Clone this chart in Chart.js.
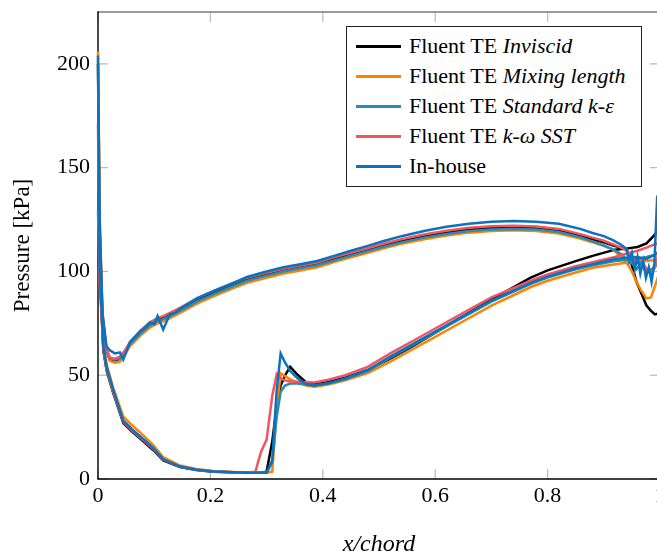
<!DOCTYPE html>
<html>
<head>
<meta charset="utf-8">
<script src="https://cdn.jsdelivr.net/npm/chart.js@4.4.0/dist/chart.umd.min.js"></script>
<style>
html, body { margin:0; padding:0; background:#fff; overflow:hidden; }
#wrap { position:relative; width:657px; height:555px; overflow:hidden; }
#c { position:absolute; left:0; top:0; }
#legend { position:absolute; left:346px; top:26px; width:296px; height:161px; box-sizing:border-box;
  border:1.3px solid #222; background:#fff; font-family:'Liberation Serif','DejaVu Serif',serif; font-size:22px; color:#000; }
.row { position:absolute; left:0; width:100%; height:30px; line-height:30px; white-space:nowrap; }
.swatch { position:absolute; left:9px; top:13.5px; width:45px; height:3px; }
.txt { position:absolute; left:62px; top:0; }
</style>
</head>
<body>
<div id="wrap">
  <canvas id="c" width="680" height="555"></canvas>
  <div id="legend"></div>
</div>
<script>
// ---------- tick labels ----------
const xTicks = [0, 0.2, 0.4, 0.6, 0.8, 1];
const yTicks = [0, 50, 100, 150, 200];

// ---------- series names ----------
const seriesNames  = ['Fluent TE Inviscid', 'Fluent TE Mixing length', 'Fluent TE Standard k-ε', 'Fluent TE k-ω SST', 'In-house'];
const legendPlain  = ['Fluent TE ', 'Fluent TE ', 'Fluent TE ', 'Fluent TE ', 'In-house'];
const legendItalic = ['Inviscid', 'Mixing length', 'Standard k-ε', 'k-ω SST', ''];

// ---------- x/chord positions ----------
const xLower = [0.003, 0.0095, 0.0155, 0.027, 0.045, 0.06, 0.075, 0.098, 0.116, 0.146,
  0.175, 0.205, 0.265, 0.28, 0.29, 0.30, 0.31, 0.318, 0.325, 0.333,
  0.342, 0.355, 0.371, 0.385, 0.41, 0.44, 0.48, 0.52, 0.56, 0.60,
  0.65, 0.70, 0.77, 0.80, 0.85, 0.88, 0.92, 0.94, 0.96, 0.976,
  0.99, 1.0];
const xUpper = [0, 0.003, 0.008, 0.015, 0.021, 0.03, 0.039, 0.048, 0.057, 0.075,
  0.0925, 0.106, 0.116, 0.128, 0.146, 0.176, 0.205, 0.241, 0.265, 0.30,
  0.33, 0.36, 0.39, 0.42, 0.45, 0.48, 0.51, 0.54, 0.58, 0.62,
  0.66, 0.70, 0.74, 0.78, 0.82, 0.858, 0.88, 0.90, 0.917, 0.93,
  0.941, 0.95, 0.958, 0.966, 0.976, 0.984, 0.991, 1.0];
const xUpperInHouse = [0, 0.003, 0.008, 0.015, 0.021, 0.03, 0.039, 0.045, 0.057, 0.066,
  0.075, 0.084, 0.0925, 0.1, 0.106, 0.116, 0.128, 0.137, 0.146, 0.176,
  0.205, 0.241, 0.265, 0.30, 0.33, 0.36, 0.39, 0.42, 0.45, 0.48,
  0.51, 0.54, 0.58, 0.62, 0.66, 0.70, 0.74, 0.78, 0.82, 0.858,
  0.88, 0.90, 0.917, 0.93, 0.94, 0.945, 0.95, 0.955, 0.96, 0.965,
  0.97, 0.975, 0.98, 0.985, 0.99, 0.995, 1.0];

// ---------- pressure [kPa] ----------
const inviscidLower = [100, 62, 52, 41.5, 27, 23, 19.5, 14, 9, 5.8,
  4.3, 3.5, 3, 3, 3, 3.5, 18, 35, 45, 50,
  54, 50.2, 46.4, 45.5, 46.8, 48.8, 52.5, 58, 64, 70.5,
  78.5, 86.5, 97, 100.5, 105, 107.5, 110.5, 111, 111.8, 113.5,
  117.5, 121];
const inviscidUpper = [200, 120, 78, 62, 57.5, 57, 58, 61, 65, 70.5,
  74.5, 76.5, 77.5, 79, 81.5, 86, 89.5, 93.5, 96, 98.5,
  100.5, 102, 103.5, 106, 108.3, 110.5, 112.8, 114.8, 117, 118.8,
  120.2, 121, 121.3, 121, 119.8, 117.2, 115.5, 114, 112.5, 111.5,
  110.5, 103, 95, 90, 83.5, 81, 79.3, 80];

const mixingLower = [105, 66, 55, 44, 30, 26, 22.5, 16.5, 10.5, 6.5,
  4.8, 3.8, 3, 3, 3, 3, 3.5, 33, 51, 49.5,
  48, 46.5, 45, 44.5, 45.5, 47.5, 51, 56.5, 62.5, 68.5,
  76, 83.5, 92.5, 95.5, 99.5, 101.8, 103.5, 104.2, 104.5, 105,
  105.5, 106];
const mixingUpper = [206, 125, 80, 62, 57, 56, 56.5, 60, 64, 69,
  73, 75, 76, 77.5, 80, 84.5, 88, 92, 94.5, 97,
  99, 100.5, 102, 104.5, 106.8, 109, 111.3, 113.3, 115.5, 117.3,
  118.7, 119.5, 119.8, 119.5, 118.3, 115.8, 114, 112.3, 110.5, 107,
  104, 100, 95, 91, 87, 87.5, 93, 100];

const kepsLower = [98, 63, 53, 42.5, 28, 24, 20.5, 15, 9.5, 6,
  4.5, 3.6, 3, 3, 3, 3, 8, 30, 42, 45,
  46, 46, 45.5, 45, 46, 48, 52, 58.5, 64.5, 70.5,
  78, 85.5, 94, 97, 101, 103, 105, 105.5, 106, 107,
  108, 109];
const kepsUpper = [129, 110, 76, 62, 58, 57.5, 58, 61, 65, 70,
  74, 76, 77, 78.5, 81, 85.5, 89, 93, 95.5, 98,
  100, 101.5, 103, 105.3, 107.6, 109.8, 112, 114, 116.3, 118,
  119.5, 120.2, 120.5, 120.2, 119, 116.5, 114.5, 112.5, 110.5, 108.5,
  106, 104, 101, 104, 99, 101, 102, 107];

const komegaLower = [95, 63, 53, 42, 27.5, 23.5, 20, 14.5, 9.3, 6,
  4.5, 3.6, 3, 3.5, 13, 19, 40, 50.5, 48.5, 47.5,
  47, 46.8, 46.6, 46.5, 47.8, 50, 54, 60.5, 66.5, 72.5,
  80, 87.5, 95.5, 98.5, 102.5, 104.5, 107, 108.5, 110, 111.5,
  113, 114];
const komegaUpper = [171, 115, 78, 63, 58.5, 58, 59, 62, 66, 71.5,
  75.5, 77.5, 78.5, 80, 82.5, 87, 90.5, 94.5, 97, 99.3,
  101.3, 102.8, 104.3, 106.8, 109, 111.2, 113.5, 115.5, 117.8, 119.6,
  121, 121.8, 122, 121.7, 120.5, 118, 116.3, 114.8, 113, 111.5,
  110, 107, 104, 106, 101, 99, 102, 112];

const inhouseLower = [102, 64, 54, 43, 28, 24, 20.5, 15, 9.5, 6,
  4.5, 3.6, 3, 3, 3, 3, 9, 43, 60.5, 56,
  52, 48.5, 45.5, 45, 46.2, 48.5, 52.5, 59, 65, 71,
  78.5, 86, 94.5, 97.5, 101.5, 103.5, 106, 106.5, 107, 106,
  108, 110];
const inhouseUpper = [204, 125, 80, 64, 62, 60.5, 61, 57.5, 66, 68.5,
  71, 73, 75.5, 74.5, 78.5, 72, 79.5, 80, 82, 87,
  90.5, 94.5, 97.3, 100, 102, 103.5, 105, 107.5, 110, 112.3,
  114.8, 117, 119.5, 121.5, 123, 124, 124.3, 124, 123, 120.5,
  118.5, 117, 115, 113, 111, 105, 109, 101, 107, 99,
  105, 97, 102, 95, 104, 136, 138];

// ---------- styles ----------
const colors = ['#000000', '#ff8200', '#2a8cb2', '#f5545e', '#0b72be'];
const FONT = "'Liberation Serif', 'DejaVu Serif', serif";

function loop(xl, yl, xu, yu) {
  const pts = [];
  for (let i = xl.length - 1; i >= 0; i--) pts.push({x: xl[i], y: yl[i]});
  for (let i = 0; i < xu.length; i++) pts.push({x: xu[i], y: yu[i]});
  return pts;
}

const seriesData = [
  loop(xLower, inviscidLower, xUpper, inviscidUpper),
  loop(xLower, mixingLower, xUpper, mixingUpper),
  loop(xLower, kepsLower, xUpper, kepsUpper),
  loop(xLower, komegaLower, xUpper, komegaUpper),
  loop(xLower, inhouseLower, xUpperInHouse, inhouseUpper)
];

const datasets = seriesData.map((d, i) => ({
  label: seriesNames[i],
  data: d,
  borderColor: colors[i],
  backgroundColor: colors[i],
  borderWidth: 2.5,
  pointRadius: 0,
  showLine: true,
  fill: false,
  tension: 0,
  clip: false,
  order: 5 - i
}));

const framePlugin = {
  id: 'frame',
  beforeDatasetsDraw(chart) {
    const {ctx, chartArea: {left, right, top, bottom}, scales: {x, y}} = chart;
    ctx.save();
    const seg = (a, b, c, d) => { ctx.beginPath(); ctx.moveTo(a, b); ctx.lineTo(c, d); ctx.stroke(); };
    ctx.strokeStyle = '#b8b8b8';
    ctx.lineWidth = 1.2;
    xTicks.forEach(v => {
      const px = x.getPixelForValue(v);
      seg(px, bottom, px, bottom - 10);
      seg(px, top, px, top + 10);
    });
    yTicks.forEach(v => {
      const py = y.getPixelForValue(v);
      seg(left, py, left + 10, py);
      seg(right, py, right - 10, py);
    });
    ctx.strokeStyle = '#7a7a7a';
    ctx.lineWidth = 1.4;
    seg(left, top, right, top);
    seg(right, top, right, bottom);
    ctx.strokeStyle = '#000';
    seg(left, top - 0.7, left, bottom);
    seg(left - 0.7, bottom, right, bottom);
    ctx.restore();
  }
};

new Chart(document.getElementById('c'), {
  type: 'scatter',
  data: { datasets },
  options: {
    responsive: false,
    animation: false,
    layout: { padding: { left: 0, right: 20, top: 12, bottom: 0 } },
    plugins: { legend: { display: false }, tooltip: { enabled: false } },
    scales: {
      x: {
        type: 'linear', min: 0, max: 1,
        grid: { display: false, drawTicks: false },
        border: { display: false },
        afterBuildTicks: s => { s.ticks = xTicks.map(v => ({value: v})); },
        afterFit: s => { s.height = 76; s.paddingLeft = 0; s.paddingRight = 0; },
        ticks: {
          color: '#000', padding: 4, maxRotation: 0, autoSkip: false,
          font: { family: FONT, size: 22 },
          callback: v => String(v)
        },
        title: {
          display: true, text: 'x/chord', color: '#000',
          font: { family: FONT, size: 24, style: 'italic', lineHeight: 0.9 },
          padding: { top: 0, bottom: 0 }
        }
      },
      y: {
        type: 'linear', min: 0, max: 225,
        grid: { display: false, drawTicks: false },
        border: { display: false },
        afterBuildTicks: s => { s.ticks = yTicks.map(v => ({value: v})); },
        afterFit: s => { s.width = 98; s.paddingTop = 0; s.paddingBottom = 0; },
        ticks: {
          color: '#000', padding: 8,
          font: { family: FONT, size: 22, lineHeight: 1 },
          callback: v => String(v)
        },
        title: {
          display: true, text: 'Pressure [kPa]', color: '#000',
          font: { family: FONT, size: 23 },
          padding: { top: 9, bottom: 0 }
        }
      }
    }
  },
  plugins: [framePlugin]
});

// ---------- legend ----------
const leg = document.getElementById('legend');
seriesNames.forEach((n, i) => {
  const row = document.createElement('div');
  row.className = 'row';
  row.style.top = (4 + 30 * i) + 'px';
  const sw = document.createElement('div');
  sw.className = 'swatch';
  sw.style.background = colors[i];
  const t = document.createElement('span');
  t.className = 'txt';
  t.appendChild(document.createTextNode(legendPlain[i]));
  if (legendItalic[i]) {
    const it = document.createElement('i');
    it.textContent = legendItalic[i];
    t.appendChild(it);
  }
  row.appendChild(sw);
  row.appendChild(t);
  leg.appendChild(row);
});
</script>
</body>
</html>
